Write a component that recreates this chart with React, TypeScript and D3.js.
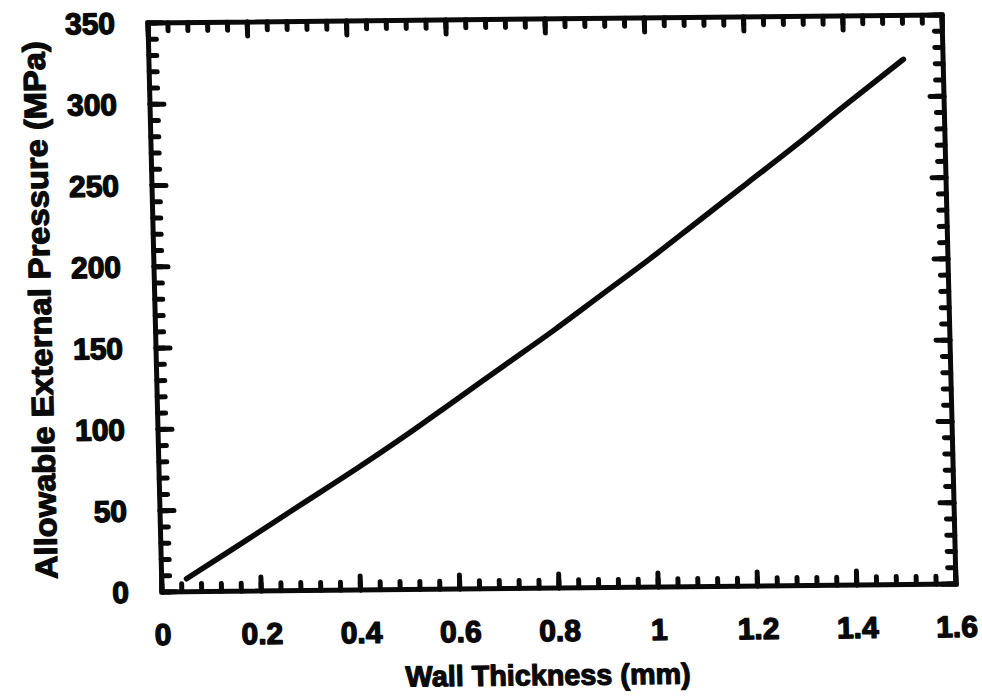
import React from "react";
import * as d3 from "d3";

// Data
const thicknessMm = [0.05, 0.15, 0.28, 0.4, 0.5, 0.6, 0.7, 0.8, 0.9, 1.0, 1.1, 1.2, 1.3, 1.4, 1.52];
const pressureMPa = [8, 27, 52, 75, 95, 116, 137, 158, 180, 202, 225, 248, 271, 295, 323];
const xTickLabels = ["0", "0.2", "0.4", "0.6", "0.8", "1", "1.2", "1.4", "1.6"];
const yTickLabels = ["0", "50", "100", "150", "200", "250", "300", "350"];
const xTitle = "Wall Thickness (mm)";
const yTitle = "Allowable External Pressure (MPa)";

const W = 982;
const H = 697;
const PW = 794;
const PH = 569;

export default function App() {
  const x = d3.scaleLinear().domain([0, 1.6]).range([0, PW]);
  const y = d3.scaleLinear().domain([0, 350]).range([PH, 0]);

  const xMajor = x.ticks(8);
  const yMajor = y.ticks(7);
  const xMinor = d3.range(0, 41).map((i) => i * 0.04);
  const yMinor = y.ticks(35);

  const pts: [number, number][] = thicknessMm.map((t, i) => [t, pressureMPa[i]]);
  const line = d3
    .line<[number, number]>()
    .x((d) => x(d[0]))
    .y((d) => y(d[1]))
    .curve(d3.curveMonotoneX);

  const majorLen = 14;
  const minorLen = 8;
  const font = "'Liberation Sans', Arial, Helvetica, sans-serif";
  const ink = "#0a0a0a";

  return (
    <svg
      width={W}
      height={H}
      viewBox={`0 0 ${W} ${H}`}
      style={{ position: "absolute", left: 0, top: 0, background: "#fff" }}
    >
      <rect x={0} y={0} width={W} height={H} fill="#fff" />
      <g transform="matrix(1,-0.01008,0.0246,1,148,23)">
        {/* ticks */}
        <g stroke={ink} strokeWidth={5} strokeLinecap="round">
          {xMinor.map((v, i) => (
            <g key={"xm" + i}>
              <line x1={x(v)} x2={x(v)} y1={PH} y2={PH - minorLen} />
              <line x1={x(v)} x2={x(v)} y1={0} y2={minorLen} />
            </g>
          ))}
          {yMinor.map((v, i) => (
            <g key={"ym" + i}>
              <line x1={0} x2={minorLen} y1={y(v)} y2={y(v)} />
              <line x1={PW} x2={PW - minorLen} y1={y(v)} y2={y(v)} />
            </g>
          ))}
          {xMajor.map((v, i) => (
            <g key={"xM" + i}>
              <line x1={x(v)} x2={x(v)} y1={PH} y2={PH - majorLen} />
              <line x1={x(v)} x2={x(v)} y1={0} y2={majorLen} />
            </g>
          ))}
          {yMajor.map((v, i) => (
            <g key={"yM" + i}>
              <line x1={0} x2={majorLen} y1={y(v)} y2={y(v)} />
              <line x1={PW} x2={PW - majorLen} y1={y(v)} y2={y(v)} />
            </g>
          ))}
        </g>
        {/* frame */}
        <rect x={0} y={0} width={PW} height={PH} fill="none" stroke={ink} strokeWidth={5} />
        {/* curve */}
        <path
          d={line(pts) || ""}
          fill="none"
          stroke={ink}
          strokeWidth={5.5}
          strokeLinecap="round"
          strokeLinejoin="round"
        />
        {/* tick labels */}
        <g
          fontFamily={font}
          fontWeight="bold"
          fontSize={30}
          fill={ink}
          stroke={ink}
          strokeWidth={1.4}
          strokeLinejoin="round"
        >
          {xMajor.map((v, i) => (
            <text key={"xl" + i} x={x(v)} y={PH + 53} textAnchor="middle">
              {xTickLabels[i]}
            </text>
          ))}
          {yMajor.map((v, i) => (
            <text key={"yl" + i} x={-33} y={y(v)} dy="0.35em" textAnchor="end">
              {yTickLabels[i]}
            </text>
          ))}
        </g>
        {/* axis titles */}
        <g
          fontFamily={font}
          fontWeight="bold"
          fill={ink}
          stroke={ink}
          strokeWidth={1.2}
          strokeLinejoin="round"
        >
          <text x={384} y={666} textAnchor="middle" fontSize={29} textLength={285} lengthAdjust="spacingAndGlyphs">
            {xTitle}
          </text>
          <text
            transform={`translate(-115,286) rotate(-90)`}
            textAnchor="middle"
            dy="0.35em"
            fontSize={31}
            textLength={538}
            lengthAdjust="spacingAndGlyphs"
          >
            {yTitle}
          </text>
        </g>
      </g>
    </svg>
  );
}
